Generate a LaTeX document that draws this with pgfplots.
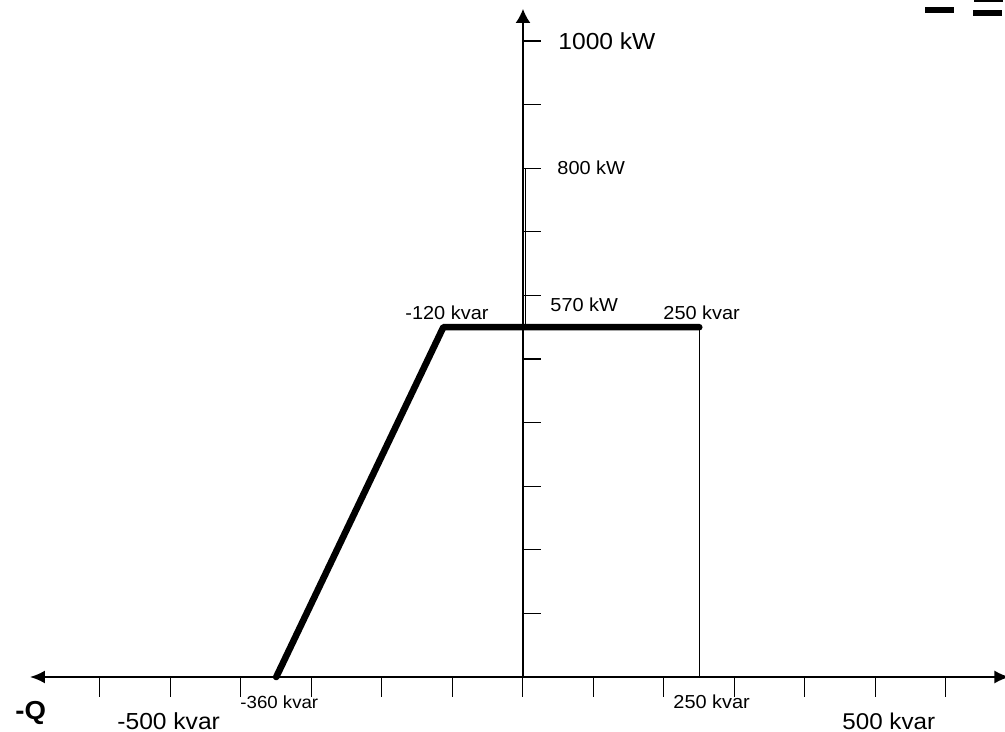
\documentclass[border=0pt]{standalone}
\usepackage{fontspec}
\setmainfont{Liberation Sans}
\usepackage{pgfplots}
\pgfplotsset{compat=1.18}
\usetikzlibrary{arrows.meta}
\begin{document}
\begin{tikzpicture}[x=0.5pt,y=0.5pt]
\begin{axis}[at={(0,0)},anchor=south west,
  scale only axis, width=502.5pt, height=366pt,
  xmin=-741.84, xmax=683.69, ymin=-86.48, ymax=1064.47,
  axis lines=none, clip=false]
% axes
\draw[line width=1pt,{Latex[length=7.5pt,width=6.5pt]}-{Latex[length=7.5pt,width=6.5pt]}] (axis cs:-699.3,0) -- (axis cs:690,0);
\draw[line width=0.7pt,-{Latex[length=7pt,width=7.5pt]}] (axis cs:0,0) -- (axis cs:0,1050.3);
\pgfplotsinvokeforeach{-600,-500,-400,-300,-200,-100,0,100,200,300,400,500,600}{
  \draw[line width=0.5pt] (axis cs:#1,0) -- (axis cs:#1,-31.4);
}
\pgfplotsinvokeforeach{100,200,300,400,500,600,700,800,900,1000}{
  \draw[line width=0.6pt] (axis cs:0,#1) -- (axis cs:25.5,#1);
}
% data
\addplot[line width=0.5pt] coordinates {(250,0) (250,550)};
\addplot[line width=0.4pt] coordinates {(3.3,550) (3.3,800)};
\addplot[line width=3.3pt, line join=round, line cap=round] coordinates {(-350,0) (-113,550) (250,550)};
\end{axis}
% labels (picture px coordinates, Y from bottom)
\tikzset{lab/.style={anchor=west, inner sep=0pt, xscale=1.06}}
\node[lab, font=\fontsize{11.6pt}{13pt}\selectfont] at (558,691) {1000 kW};
\node[lab, font=\fontsize{9.4pt}{11pt}\selectfont] at (557,564) {800 kW};
\node[lab, font=\fontsize{9.4pt}{11pt}\selectfont] at (550,427) {570 kW};
\node[lab, font=\fontsize{9.4pt}{11pt}\selectfont] at (405,419) {-120 kvar};
\node[lab, font=\fontsize{9.4pt}{11pt}\selectfont] at (663,419) {250 kvar};
\node[lab, font=\fontsize{8.8pt}{10pt}\selectfont] at (240,30) {-360 kvar};
\node[lab, font=\fontsize{9.4pt}{11pt}\selectfont] at (673,30) {250 kvar};
\node[lab, font=\fontsize{11.6pt}{13pt}\selectfont] at (117,11) {-500 kvar};
\node[lab, font=\fontsize{11.4pt}{13pt}\selectfont] at (842,11) {500 kvar};
\node[lab, font=\fontsize{13pt}{15pt}\selectfont\bfseries] at (15,19) {-Q};
% top-right fragments
\fill (925,725) rectangle (954,719);
\fill (973,722) rectangle (1002,716);
\fill (974,732) rectangle (1003,729.5);
\pgfresetboundingbox
\path[use as bounding box] (0,0) rectangle (1005,732);
\end{tikzpicture}
\end{document}
